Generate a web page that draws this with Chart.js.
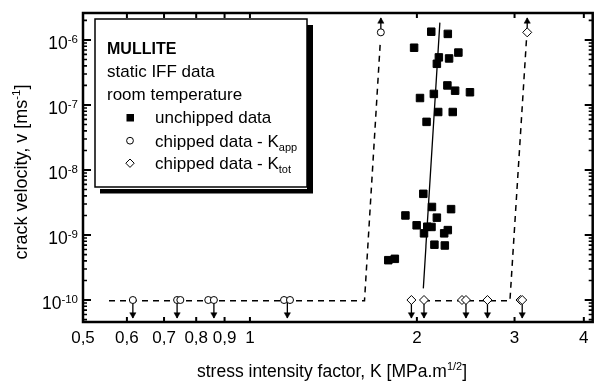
<!DOCTYPE html>
<html>
<head>
<meta charset="utf-8">
<title>Mullite - crack velocity vs stress intensity factor</title>
<script src="https://cdn.jsdelivr.net/npm/chart.js"></script>
<style>
  html, body { margin: 0; padding: 0; background: #fff; }
  canvas { display: block; }
</style>
</head>
<body>
<canvas id="crackChart" width="599" height="382"></canvas>
<script>
// ---------- Data ----------

// unchipped data: K [MPa.m^1/2] and crack velocity v [m/s]
const unchippedK = [2.123, 2.274, 1.977, 2.191, 2.286, 2.376, 2.173, 2.270, 2.344, 2.493, 2.146, 2.026, 2.185, 2.321, 2.082,
  2.054, 2.129, 2.305, 1.907, 2.173, 1.998, 2.088, 2.125, 2.060, 2.274, 2.240, 2.151, 2.246, 1.776, 1.825];
const unchippedV = [1.34e-6, 1.24e-6, 7.6e-7, 5.4e-7, 5.2e-7, 6.4e-7, 4.3e-7, 2.0e-7, 1.66e-7, 1.57e-7, 1.48e-7, 1.28e-7, 7.8e-8, 7.8e-8, 5.5e-8,
  4.3e-9, 2.7e-9, 2.5e-9, 2.0e-9, 1.85e-9, 1.41e-9, 1.34e-9, 1.33e-9, 1.06e-9, 1.19e-9, 1.06e-9, 7.1e-10, 6.9e-10, 4.1e-10, 4.3e-10];

// chipped data: K_app (circles) and K_tot (diamonds)
const kappLowK = [0.615, 0.739, 0.749, 0.841, 0.861, 1.152, 1.181];
const kappHighK = [1.722];
const ktotLowK = [1.955, 2.060, 2.412, 2.452, 2.681, 3.075, 3.097];
const ktotHighK = [3.162];
const lowV = 1.0e-10;
const highV = 1.31e-6;

// arrows (bounds)
const arrowDownK = [0.615, 0.739, 0.861, 1.168, 1.955, 2.060, 2.452, 2.681, 3.097];
const arrowUpK = [1.722, 3.162];
const arrowDownTipV = 5.3e-11;
const arrowDownHeadV = 5.98e-11;
const arrowUpTipV = 2.18e-6;
const arrowUpHeadV = 1.93e-6;

// fit line through the unchipped data
const fitK = [2.054, 2.200];
const fitV = [1.51e-10, 1.85e-6];

// dashed bound lines
const kappBoundK = [0.557, 1.609, 1.719];
const kappBoundV = [9.7e-11, 9.7e-11, 1.0e-6];
const ktotBoundK = [2.060, 2.943, 3.152];
const ktotBoundV = [9.7e-11, 9.7e-11, 1.0e-6];

// axes
const kMin = 0.5, kMax = 4.15;
const vMin = 4.59e-11, vMax = 2.6e-6;
const kTicks = [0.5, 0.6, 0.7, 0.8, 0.9, 1, 2, 3, 4];
const vDecades = [-10, -9, -8, -7, -6];

const FONT = '"Liberation Sans", Arial, Helvetica, sans-serif';

// ---------- helpers ----------

function toPoints(ks, vs) {
  return ks.map((k, i) => ({ x: k, y: Array.isArray(vs) ? vs[i] : vs }));
}

// text with a raised / lowered small part, returns width
function drawParts(ctx, parts, x, y) {
  let cx = x;
  parts.forEach(p => {
    ctx.font = p.font;
    ctx.fillText(p.text, cx, y + (p.dy || 0));
    cx += ctx.measureText(p.text).width;
  });
  return cx - x;
}

function partsWidth(ctx, parts) {
  let w = 0;
  parts.forEach(p => { ctx.font = p.font; w += ctx.measureText(p.text).width; });
  return w;
}

// ---------- frame, inward ticks, y labels, titles, legend ----------

const decorPlugin = {
  id: 'decor',
  afterDraw(chart) {
    const ctx = chart.ctx;
    const { left, right, top, bottom } = chart.chartArea;
    const xs = chart.scales.x, ys = chart.scales.y;
    ctx.save();
    ctx.strokeStyle = '#000';
    ctx.fillStyle = '#000';

    // x ticks, bottom and top
    ctx.lineWidth = 2;
    kTicks.forEach(k => {
      const px = xs.getPixelForValue(k);
      ctx.beginPath();
      ctx.moveTo(px, bottom); ctx.lineTo(px, bottom - 5);
      ctx.moveTo(px, top); ctx.lineTo(px, top + 5);
      ctx.stroke();
    });

    // y ticks, left and right, with minors
    for (let e = -11; e <= -6; e++) {
      for (let m = 1; m <= 9; m++) {
        const v = m * Math.pow(10, e);
        if (v < vMin || v > vMax) continue;
        const py = ys.getPixelForValue(v);
        const len = m === 1 ? 8 : 4;
        ctx.lineWidth = m === 1 ? 2 : 1.6;
        ctx.beginPath();
        ctx.moveTo(left, py); ctx.lineTo(left + len, py);
        ctx.moveTo(right, py); ctx.lineTo(right - len, py);
        ctx.stroke();
      }
    }

    // frame
    ctx.lineWidth = 2.5;
    ctx.strokeRect(left, top, right - left, bottom - top);

    // y tick labels 10^n
    ctx.textBaseline = 'alphabetic';
    vDecades.forEach(e => {
      const py = ys.getPixelForValue(Math.pow(10, e));
      const parts = [
        { text: '10', font: '17.5px ' + FONT },
        { text: String(e), font: '11.5px ' + FONT, dy: -6 }
      ];
      const w = partsWidth(ctx, parts);
      drawParts(ctx, parts, left - 5 - w, py + 9);
    });

    // y title
    ctx.save();
    ctx.translate(27, 172);
    ctx.rotate(-Math.PI / 2);
    const yParts = [
      { text: 'crack velocity, v [ms', font: '18px ' + FONT },
      { text: '-1', font: '11.5px ' + FONT, dy: -7 },
      { text: ']', font: '18px ' + FONT }
    ];
    drawParts(ctx, yParts, -partsWidth(ctx, yParts) / 2, 0);
    ctx.restore();

    // x title
    const xParts = [
      { text: 'stress intensity factor, K [MPa.m', font: '17.5px ' + FONT },
      { text: '1/2', font: '11px ' + FONT, dy: -7 },
      { text: ']', font: '17.5px ' + FONT }
    ];
    drawParts(ctx, xParts, 332 - partsWidth(ctx, xParts) / 2, 377);

    // legend box with shadow
    ctx.fillStyle = '#000';
    ctx.fillRect(100, 25, 213, 168.5);
    ctx.fillStyle = '#fff';
    ctx.fillRect(95, 19, 212, 170);
    ctx.lineWidth = 1.5;
    ctx.strokeRect(95, 19, 212, 168);

    ctx.fillStyle = '#000';
    ctx.font = 'bold 16px ' + FONT;
    ctx.fillText('MULLITE', 107, 53.5);
    ctx.font = '17px ' + FONT;
    ctx.fillText('static IFF data', 107, 77);
    ctx.fillText('room temperature', 107, 100);
    ctx.fillText('unchipped data', 155, 123);
    drawParts(ctx, [
      { text: 'chipped data - K', font: '17px ' + FONT },
      { text: 'app', font: '11px ' + FONT, dy: 4 }
    ], 155, 146.5);
    drawParts(ctx, [
      { text: 'chipped data - K', font: '17px ' + FONT },
      { text: 'tot', font: '11px ' + FONT, dy: 4 }
    ], 155, 168.5);

    // legend symbols
    ctx.fillRect(126.5, 114, 7.5, 7.5);
    ctx.lineWidth = 1;
    ctx.beginPath();
    ctx.arc(130, 140.7, 3.4, 0, Math.PI * 2);
    ctx.stroke();
    ctx.beginPath();
    ctx.moveTo(130, 159); ctx.lineTo(134.2, 163.2); ctx.lineTo(130, 167.4); ctx.lineTo(125.8, 163.2);
    ctx.closePath();
    ctx.stroke();

    ctx.restore();
  }
};

// ---------- datasets ----------

const markerDefaults = { borderColor: '#000', borderWidth: 1, order: 0 };
const lineDefaults = { showLine: true, pointRadius: 0, borderColor: '#000', fill: false };

const datasets = [
  Object.assign({
    label: 'unchipped data',
    data: toPoints(unchippedK, unchippedV),
    pointStyle: 'rect', pointRadius: 5.3, backgroundColor: '#000'
  }, markerDefaults),
  Object.assign({
    label: 'chipped data - Kapp',
    data: toPoints(kappLowK, lowV).concat(toPoints(kappHighK, highV)),
    pointStyle: 'circle', pointRadius: 3.5, backgroundColor: '#fff'
  }, markerDefaults),
  Object.assign({
    label: 'chipped data - Ktot',
    data: toPoints(ktotLowK, lowV).concat(toPoints(ktotHighK, highV)),
    pointStyle: 'rectRot', pointRadius: 4.5, backgroundColor: '#fff'
  }, markerDefaults),
  {
    label: 'arrow heads down',
    data: toPoints(arrowDownK, arrowDownHeadV),
    pointStyle: 'triangle', pointRotation: 180, pointRadius: 3.6,
    backgroundColor: '#000', borderColor: '#000', borderWidth: 0.5, order: 1
  },
  {
    label: 'arrow heads up',
    data: toPoints(arrowUpK, arrowUpHeadV),
    pointStyle: 'triangle', pointRotation: 0, pointRadius: 3.6,
    backgroundColor: '#000', borderColor: '#000', borderWidth: 0.5, order: 1
  },
  Object.assign({
    label: 'fit', data: toPoints(fitK, fitV), borderWidth: 1.3, order: 2
  }, lineDefaults),
  Object.assign({
    label: 'Kapp bound', data: toPoints(kappBoundK, kappBoundV),
    borderWidth: 1.5, borderDash: [6, 5], order: 2
  }, lineDefaults),
  Object.assign({
    label: 'Ktot bound', data: toPoints(ktotBoundK, ktotBoundV),
    borderWidth: 1.5, borderDash: [6, 5], order: 2
  }, lineDefaults)
];

arrowDownK.forEach(k => {
  datasets.push(Object.assign({
    label: 'shaft', data: [{ x: k, y: lowV }, { x: k, y: arrowDownTipV }], borderWidth: 1.3, order: 1
  }, lineDefaults));
});
arrowUpK.forEach(k => {
  datasets.push(Object.assign({
    label: 'shaft', data: [{ x: k, y: highV }, { x: k, y: arrowUpTipV }], borderWidth: 1.3, order: 1
  }, lineDefaults));
});

// ---------- chart ----------

new Chart(document.getElementById('crackChart').getContext('2d'), {
  type: 'scatter',
  data: { datasets: datasets },
  options: {
    responsive: false,
    animation: false,
    events: [],
    layout: { padding: { top: 13, right: 2, left: 0, bottom: 0 } },
    plugins: { legend: { display: false }, tooltip: { enabled: false } },
    scales: {
      x: {
        type: 'logarithmic',
        min: kMin, max: kMax,
        afterBuildTicks: scale => { scale.ticks = kTicks.map(v => ({ value: v })); },
        afterFit: scale => { scale.height = 60; },
        grid: { display: false, drawTicks: false },
        border: { display: false },
        ticks: {
          autoSkip: false, maxRotation: 0, minRotation: 0, padding: 6,
          color: '#000', font: { family: FONT, size: 17 },
          callback: v => String(v).replace('.', ',')
        }
      },
      y: {
        type: 'logarithmic',
        min: vMin, max: vMax,
        afterFit: scale => { scale.width = 83; },
        grid: { display: false, drawTicks: false },
        border: { display: false },
        ticks: { display: false }
      }
    }
  },
  plugins: [decorPlugin]
});
</script>
</body>
</html>
